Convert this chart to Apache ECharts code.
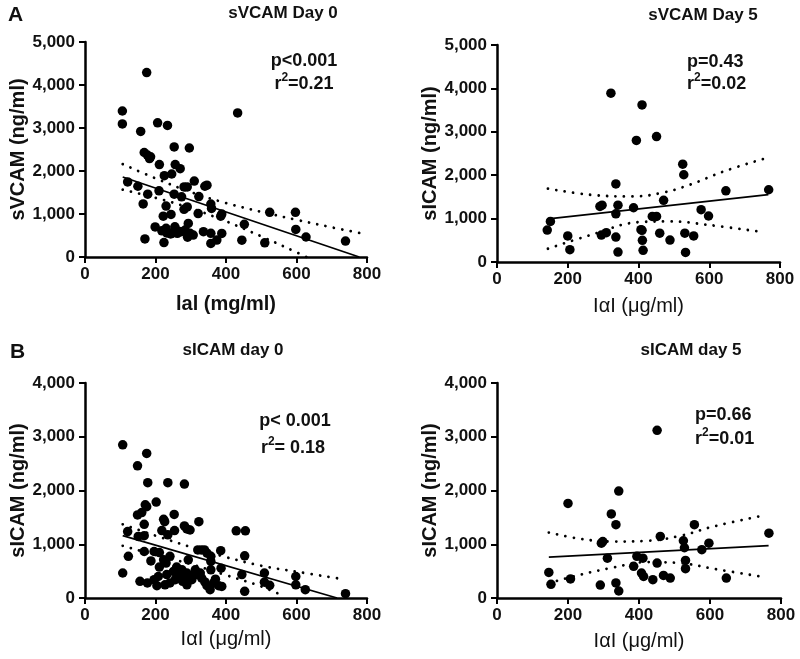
<!DOCTYPE html>
<html>
<head>
<meta charset="utf-8">
<script src="https://cdn.jsdelivr.net/npm/echarts@6/dist/echarts.min.js"></script>
<style>
html,body{margin:0;padding:0;background:#fff;}
#c{width:800px;height:659px;}
</style>
</head>
<body>
<div id="c"></div>
<script>
// ---------- data ----------
const panelTitles = ['sVCAM Day 0', 'sVCAM Day 5', 'sICAM day 0', 'sICAM day 5'];
const yNames = ['sVCAM (ng/ml)', 'sICAM (ng/ml)', 'sICAM (ng/ml)', 'sICAM (ng/ml)'];
const xNames = ['lal (mg/ml)', 'I\u03b1I (\u03bcg/ml)', 'I\u03b1I (\u03bcg/ml)', 'I\u03b1I (\u03bcg/ml)'];
const pTexts = ['p<0.001', 'p=0.43', 'p< 0.001', 'p=0.66'];
const rValues = ['=0.21', '=0.02', '= 0.18', '=0.01'];
const xMax = 800, xStep = 200;
const yMaxes = [5000, 5000, 4000, 4000], yStep = 1000;

const pointsA = [[175,4290],[106,3395],[106,3095],[433,3350],[158,2920],[206,3120],[234,3060],
[168,2430],[177,2370],[186,2330],[183,2290],
[253,2560],[296,2535],[211,2150],[256,2150],[270,2055],[225,1890],[246,1930],
[121,1745],[150,1645],[210,1540],[178,1460],[165,1235],[253,1460],[274,1400],
[281,1630],[290,1630],[310,1765],[340,1645],[346,1670],[323,1405],[290,1165],[281,1110],
[230,1185],[321,1010],[357,1230],[359,1130],[388,998],[385,950],[222,950],[244,990],
[524,1040],[597,1040],[452,760],[598,640],[627,465],[739,370],[510,330],[445,390],
[199,700],[170,420],[224,335],[218,610],[230,666],[243,535],[255,703],[262,550],[274,590],
[284,626],[293,781],[298,550],[307,510],[336,590],[357,550],[357,315],[374,394],[388,549],
[249,560],[265,600],[291,460],[232,560]];
const fitA = [[107,1860],[778,0]];
const upperA = [[107,2160],[200,1830],[300,1510],[400,1255],[500,1050],[600,865],[700,690],[778,560]];
const lowerA = [[107,1565],[200,1375],[300,1135],[400,830],[500,480],[600,110],[628,0]];

const pointsA5 = [[322,3890],[410,3620],[394,2800],[451,2890],[525,2255],[528,2010],[336,1800],
[647,1640],[768,1665],[291,1280],[297,1310],[342,1310],[336,1110],[386,1250],[471,1420],
[577,1205],[598,1060],[439,1050],[451,1050],[151,935],[142,735],[200,600],[206,285],
[295,620],[309,675],[336,575],[342,230],[407,745],[410,730],[411,500],[413,270],[460,665],
[489,505],[531,665],[556,600],[533,220]];
const fitA5 = [[145,995],[767,1550]];
const upperA5 = [[144,1690],[262,1550],[385,1510],[470,1600],[545,1780],[640,2085],[755,2380]];
const lowerA5 = [[144,305],[262,615],[404,920],[489,935],[592,860],[755,685]];

const pointsB = [[107,2850],[175,2690],[149,2460],[178,2145],[235,2145],[282,2120],[202,1785],
[171,1735],[175,1700],[149,1545],[161,1590],[168,1370],[168,1160],[151,1145],[121,1235],
[223,1465],[226,1420],[253,1555],[218,1255],[254,1255],[282,1340],[289,1285],[298,1265],
[323,1420],[235,1175],[123,775],[107,465],[168,865],[196,865],[211,845],[187,690],[223,710],
[241,775],[230,650],[260,575],[211,575],[293,710],[320,895],[330,895],[339,895],[346,835],
[357,775],[385,880],[357,680],[357,525],[386,555],[445,435],[453,785],[429,1250],[455,1250],
[509,465],[509,295],[524,235],[598,400],[598,245],[625,155],[739,80],[453,125],
[156,310],[177,280],[196,340],[204,230],[227,245],[241,280],[256,340],[265,400],[277,310],
[289,245],[303,340],[317,435],[331,370],[346,230],[355,155],[365,280],[379,230],[388,215],
[251,495],[232,435],[275,525],[313,525],[327,465],[289,465],[208,400],[270,450],[300,420],
[340,300],[370,350],[285,380]];
const fitB = [[107,1160],[715,0]];
const upperB = [[107,1370],[200,1160],[300,950],[400,760],[500,600],[600,490],[715,368]];
const lowerB = [[107,970],[200,800],[300,630],[400,425],[500,215],[567,25]];

const pointsB5 = [[451,3120],[343,1990],[200,1760],[322,1565],[335,1365],[556,1365],[766,1205],
[460,1145],[298,1050],[294,1020],[525,1065],[528,935],[597,1020],[577,900],[311,740],
[394,775],[411,740],[451,650],[531,700],[531,545],[385,590],[407,465],[413,400],[439,340],
[469,420],[488,370],[146,475],[152,255],[207,355],[291,240],[335,280],[343,130],[646,370]];
const fitB5 = [[146,760],[765,975]];
const upperB5 = [[146,1218],[235,1100],[329,1050],[423,1064],[516,1156],[610,1330],[758,1546]];
const lowerB5 = [[146,278],[235,433],[329,569],[423,668],[516,649],[610,544],[758,383]];

const panels = [
  {pts: pointsA, fit: fitA, up: upperA, lo: lowerA},
  {pts: pointsA5, fit: fitA5, up: upperA5, lo: lowerA5},
  {pts: pointsB, fit: fitB, up: upperB, lo: lowerB},
  {pts: pointsB5, fit: fitB5, up: upperB5, lo: lowerB5}
];

// ---------- layout ----------
const FONT = '"Liberation Sans", Arial, Helvetica, sans-serif';
const grids = [
  {left: 85, top: 42, width: 282, height: 215},
  {left: 497, top: 45, width: 283, height: 217},
  {left: 85, top: 383, width: 282, height: 215},
  {left: 497, top: 383, width: 284, height: 215}
];
const xNameBold = [true, false, false, false];
const xNameGaps = [37, 34, 31, 33];

const chart = echarts.init(document.getElementById('c'), null, {renderer: 'canvas'});

const xAxes = [], yAxes = [], series = [];
const axisLine = {show: true, lineStyle: {color: '#000', width: 2.5}};
const axisTick = {show: true, inside: false, length: 6, lineStyle: {color: '#000', width: 2}};
const labelStyle = {color: '#111', fontFamily: FONT, fontWeight: 'bold', fontSize: 17};

panels.forEach((p, i) => {
  xAxes.push({
    gridIndex: i, type: 'value', min: 0, max: xMax, interval: xStep,
    axisLine, axisTick, splitLine: {show: false},
    axisLabel: Object.assign({margin: 9}, labelStyle),
    name: xNames[i], nameLocation: 'middle', nameGap: xNameGaps[i],
    nameTextStyle: {color: '#111', fontFamily: FONT, fontWeight: xNameBold[i] ? 'bold' : 'normal', fontSize: 20}
  });
  yAxes.push({
    gridIndex: i, type: 'value', min: 0, max: yMaxes[i], interval: yStep,
    axisLine, axisTick, splitLine: {show: false},
    axisLabel: Object.assign({margin: 10, formatter: v => v.toLocaleString('en-US')}, labelStyle),
    name: yNames[i], nameLocation: 'middle', nameGap: 57, nameRotate: 90,
    nameTextStyle: {color: '#111', fontFamily: FONT, fontWeight: 'bold', fontSize: 20}
  });
  series.push({
    type: 'scatter', xAxisIndex: i, yAxisIndex: i, data: p.pts,
    symbol: 'circle', symbolSize: 9.5, itemStyle: {color: '#000', opacity: 1}, z: 2
  });
  series.push({
    type: 'line', xAxisIndex: i, yAxisIndex: i, data: p.fit, showSymbol: false,
    lineStyle: {color: '#000', width: 1.8}, z: 3
  });
  [p.up, p.lo].forEach(band => {
    series.push({
      type: 'line', xAxisIndex: i, yAxisIndex: i, data: band, showSymbol: false, smooth: 0.4,
      lineStyle: {color: '#000', width: 2.8, type: [0.01, 8.5], cap: 'round'}, z: 3
    });
  });
});

function txt(text, x, y, size, align, weight) {
  return {type: 'text', x: x, y: y, silent: true,
    style: {text: text, fill: '#111', font: (weight || 'bold') + ' ' + size + 'px ' + FONT,
      textAlign: align || 'center', textVerticalAlign: 'middle'}};
}
function rtxt(value, x, y, align) {
  return {type: 'text', x: x, y: y, silent: true,
    style: {text: '{n|r}{s|2}{n|' + value + '}', fill: '#111',
      textAlign: align || 'center', textVerticalAlign: 'middle',
      rich: {
        n: {fontFamily: FONT, fontWeight: 'bold', fontSize: 18, lineHeight: 22, verticalAlign: 'bottom', fill: '#111'},
        s: {fontFamily: FONT, fontWeight: 'bold', fontSize: 12, lineHeight: 22, verticalAlign: 'top', fill: '#111', padding: [1, 0, 0, 0]}
      }}};
}

const graphics = [
  txt('A', 8, 15, 21, 'left'),
  txt('B', 10, 352, 21, 'left'),
  txt(panelTitles[0], 283, 13, 17),
  txt(panelTitles[1], 703, 15, 17),
  txt(panelTitles[2], 233, 350, 17),
  txt(panelTitles[3], 691, 350, 17),
  txt(pTexts[0], 304, 61, 18),
  rtxt(rValues[0], 304, 82),
  txt(pTexts[1], 687, 62, 18, 'left'),
  rtxt(rValues[1], 687, 82, 'left'),
  txt(pTexts[2], 295, 421, 18),
  rtxt(rValues[2], 293, 446),
  txt(pTexts[3], 695, 415, 18, 'left'),
  rtxt(rValues[3], 695, 437, 'left')
];

chart.setOption({
  animation: false,
  backgroundColor: '#fff',
  grid: grids,
  xAxis: xAxes,
  yAxis: yAxes,
  series: series,
  graphic: graphics
});
</script>
</body>
</html>
